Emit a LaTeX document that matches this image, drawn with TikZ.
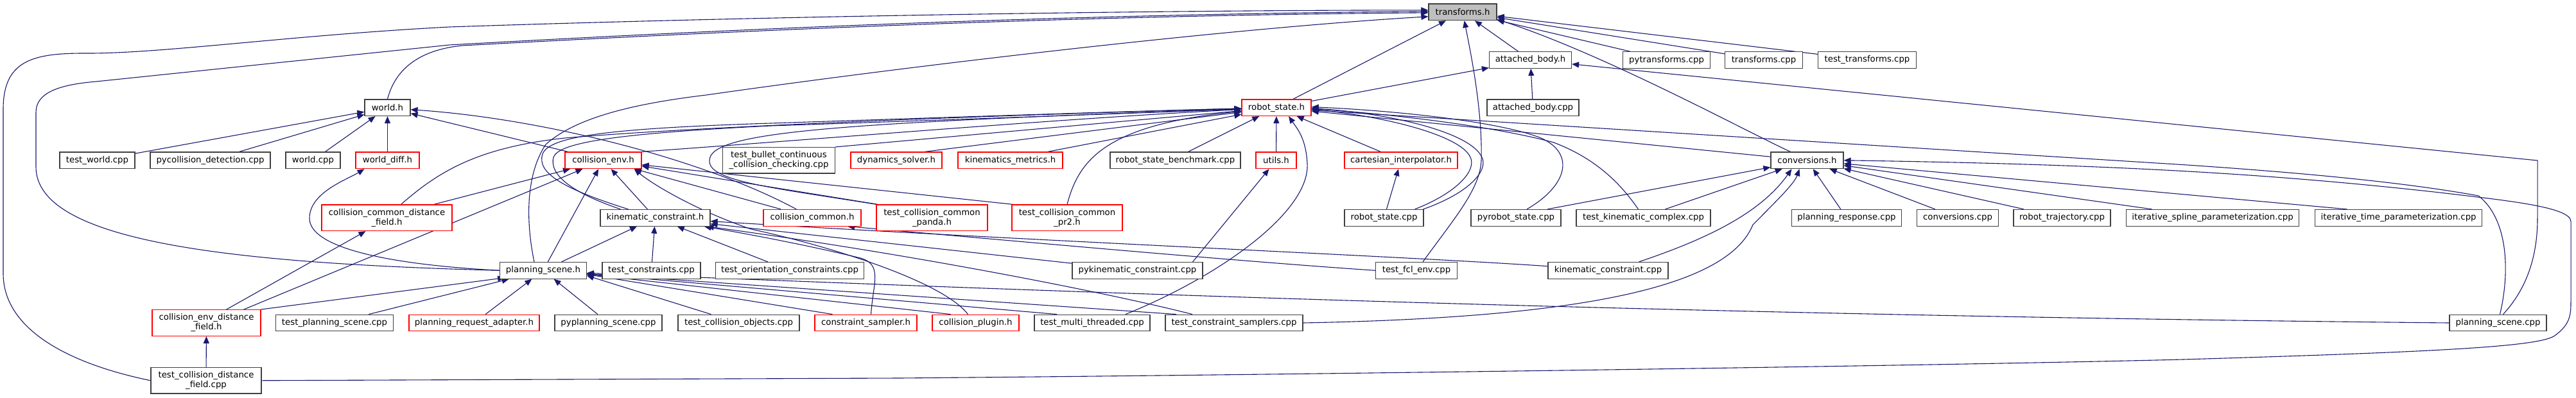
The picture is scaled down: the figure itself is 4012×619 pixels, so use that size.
\documentclass[tikz,border=0pt]{standalone}
\usepackage{fontspec}
\setmainfont{DejaVu Sans}
\usetikzlibrary{arrows.meta}
\definecolor{edgeblue}{RGB}{25,25,112}
\definecolor{boxgray}{RGB}{64,64,64}
\definecolor{rootfill}{RGB}{191,191,191}
\pgfdeclarelayer{background}
\pgfsetlayers{background,main}
\begin{document}
\begin{tikzpicture}[x=1pt,y=-1pt,
  box/.style={draw=boxgray, line width=1.2pt, fill=white, rectangle, inner sep=0pt,
    minimum height=25.6pt, align=center, font=\fontsize{13.3}{15}\selectfont},
  rbox/.style={box, draw=red},
  two/.style={minimum height=40.5pt},
  edge/.style={draw=edgeblue, line width=1.1pt, -{Triangle[length=11pt,width=9pt]}}]
\useasboundingbox (0,0) rectangle (4012,619);

% ---------- nodes ----------
\node[box, fill=rootfill, minimum width=106pt] (transforms) at (2278,18.8) {transforms.h};

\node[box, minimum width=128pt] (attached_body_h) at (2383.5,93.5) {attached\_body.h};
\node[box, minimum width=136pt] (pytransforms) at (2595.6,93.5) {pytransforms.cpp};
\node[box, minimum width=120.5pt] (transforms_cpp) at (2747,93.5) {transforms.cpp};
\node[box, minimum width=152.5pt] (test_transforms) at (2908,93.5) {test\_transforms.cpp};

\node[box, minimum width=71pt] (world_h) at (603.5,167.7) {world.h};
\node[rbox, minimum width=108pt] (robot_state_h) at (1988,167.7) {robot\_state.h};
\node[box, minimum width=143pt] (attached_body_cpp) at (2387.5,167.7) {attached\_body.cpp};

\node[box, minimum width=117pt] (test_world) at (151.5,249.8) {test\_world.cpp};
\node[box, minimum width=187pt] (pycollision) at (327.5,249.8) {pycollision\_detection.cpp};
\node[box, minimum width=85pt] (world_cpp) at (487.5,249.8) {world.cpp};
\node[rbox, minimum width=99pt] (world_diff) at (603.5,249.8) {world\_diff.h};
\node[rbox, minimum width=119pt] (collision_env_h) at (939.5,249.8) {collision\_env.h};
\node[box, two, minimum width=175pt] (test_bullet) at (1213,249.8) {test\_bullet\_continuous\\\_collision\_checking.cpp};
\node[rbox, minimum width=142pt] (dynamics_solver) at (1396,249.8) {dynamics\_solver.h};
\node[rbox, minimum width=163pt] (kinematics_metrics) at (1573.5,249.8) {kinematics\_metrics.h};
\node[box, minimum width=203pt] (robot_state_benchmark) at (1830.5,249.8) {robot\_state\_benchmark.cpp};
\node[rbox, minimum width=63pt] (utils) at (1987.5,249.8) {utils.h};
\node[rbox, minimum width=176pt] (cartesian_interpolator) at (2182,249.8) {cartesian\_interpolator.h};
\node[box, minimum width=113pt] (conversions_h) at (2814.5,249.8) {conversions.h};

\node[rbox, two, minimum width=203pt] (ccdf) at (602.5,339.3) {collision\_common\_distance\\\_field.h};
\node[box, minimum width=171pt] (kinematic_constraint_h) at (1020.5,339.3) {kinematic\_constraint.h};
\node[rbox, minimum width=152pt] (collision_common_h) at (1265,339.3) {collision\_common.h};
\node[rbox, two, minimum width=173pt] (panda) at (1451.5,339.3) {test\_collision\_common\\\_panda.h};
\node[rbox, two, minimum width=172pt] (pr2) at (1662,339.3) {test\_collision\_common\\\_pr2.h};
\node[box, minimum width=123pt] (robot_state_cpp) at (2155.5,339.3) {robot\_state.cpp};
\node[box, minimum width=140pt] (pyrobot_state) at (2361,339.3) {pyrobot\_state.cpp};
\node[box, minimum width=209pt] (test_kinematic_complex) at (2559.5,339.3) {test\_kinematic\_complex.cpp};
\node[box, minimum width=170.5pt] (planning_response) at (2876,339.3) {planning\_response.cpp};
\node[box, minimum width=126.5pt] (conversions_cpp) at (3049,339.3) {conversions.cpp};
\node[box, minimum width=151pt] (robot_trajectory) at (3211.5,339.3) {robot\_trajectory.cpp};
\node[box, minimum width=269.5pt] (iterative_spline) at (3446,339.3) {iterative\_spline\_parameterization.cpp};
\node[box, minimum width=260pt] (iterative_time) at (3735.6,339.3) {iterative\_time\_parameterization.cpp};

\node[box, minimum width=134.5pt] (planning_scene_h) at (846,421.3) {planning\_scene.h};
\node[box, minimum width=153pt] (test_constraints) at (1014.5,421.3) {test\_constraints.cpp};
\node[box, minimum width=230.6pt] (test_orientation) at (1230,421.3) {test\_orientation\_constraints.cpp};
\node[box, minimum width=203pt] (pykinematic) at (1771.5,421.3) {pykinematic\_constraint.cpp};
\node[box, minimum width=127pt] (test_fcl_env) at (2206,421.3) {test\_fcl\_env.cpp};
\node[box, minimum width=187pt] (kinematic_constraint_cpp) at (2504.5,421.3) {kinematic\_constraint.cpp};

\node[rbox, two, minimum width=169pt] (cedf) at (321.5,503) {collision\_env\_distance\\\_field.h};
\node[box, minimum width=183pt] (test_planning_scene) at (521,503) {test\_planning\_scene.cpp};
\node[rbox, minimum width=203pt] (planning_request_adapter) at (738.5,503) {planning\_request\_adapter.h};
\node[box, minimum width=167pt] (pyplanning_scene) at (947.5,503) {pyplanning\_scene.cpp};
\node[box, minimum width=189pt] (test_collision_objects) at (1150.5,503) {test\_collision\_objects.cpp};
\node[rbox, minimum width=159pt] (constraint_sampler) at (1348.5,503) {constraint\_sampler.h};
\node[rbox, minimum width=135pt] (collision_plugin) at (1519.5,503) {collision\_plugin.h};
\node[box, minimum width=180pt] (test_multi_threaded) at (1701,503) {test\_multi\_threaded.cpp};
\node[box, minimum width=214pt] (test_constraint_samplers) at (1922,503) {test\_constraint\_samplers.cpp};
\node[box, minimum width=151pt] (planning_scene_cpp) at (3890.5,503) {planning\_scene.cpp};

\node[box, two, minimum width=172pt] (tcdf) at (321,592.8) {test\_collision\_distance\\\_field.cpp};

% ---------- edges ----------
\begin{pgfonlayer}{background}
\fill[white] (0,0) rectangle (4012,619);

% into world.h
\draw[edge] (test_world) -- (world_h);
\draw[edge] (pycollision) -- (world_h);
\draw[edge] (world_cpp) -- (world_h);
\draw[edge] (world_diff) -- (world_h);
\draw[edge] (collision_env_h) -- ([yshift=-9pt]world_h.east);
\draw[edge] (collision_common_h) .. controls (1100,250) and (850,185) .. ([yshift=-3pt]world_h.east);

% into transforms.h
\draw[edge] (world_h.north) .. controls (615,110) and (650,78) .. (720,71) .. controls (1200,45) and (1700,24) .. ([yshift=-1pt]transforms.west);
\draw[edge] (tcdf.west) .. controls (100,565) and (5,510) .. (5,426) -- (5,170) .. controls (5,95) and (50,83) .. (130,83) .. controls (250,84) and (450,55) .. (700,42) .. controls (1200,25) and (1800,16) .. ([yshift=3pt]transforms.west);
\draw[edge] (planning_scene_h.west) .. controls (350,410) and (56,375) .. (56,260) -- (56,175) .. controls (56,145) and (90,132) .. (150,127) -- (700,70) .. controls (1200,42) and (1700,22) .. ([yshift=1pt]transforms.west);
\draw[edge] ([xshift=-14pt]planning_scene_h.north) .. controls (818,340) and (820,270) .. (850,225) .. controls (900,180) and (1000,160) .. (1100,148) .. controls (1400,105) and (1900,45) .. ([yshift=-7pt]transforms.west);
\draw[edge] (robot_state_h) -- (transforms);
\draw[edge] (attached_body_h) -- (transforms);
\draw[edge] (pytransforms) -- (transforms);
\draw[edge] (transforms_cpp) -- (transforms);
\draw[edge] (test_transforms) -- (transforms);
\draw[edge] ([xshift=-26pt]conversions_h.north) .. controls (2720,205) and (2500,85) .. ([yshift=2pt]transforms.south east);
\draw[edge] ([xshift=10pt]test_fcl_env.north) .. controls (2265,340) and (2305,295) .. (2307,250) .. controls (2309,170) and (2290,80) .. (transforms);

% into attached_body.h
\draw[edge] (robot_state_h) -- (attached_body_h);
\draw[edge] (attached_body_cpp) -- (attached_body_h);
\draw[edge] ([xshift=8pt]planning_scene_cpp.north) .. controls (3935,450) and (3952,400) .. (3952,340) -- (3952,250) -- (attached_body_h);

% into world_diff.h
\draw[edge] (planning_scene_h.west) .. controls (600,412) and (482,385) .. (482,340) .. controls (482,300) and (540,280) .. ([xshift=-36pt]world_diff.south);

% into collision_common_distance_field.h
\draw[edge] ([xshift=31pt]cedf.north) -- ([xshift=-33pt]ccdf.south);

% into collision_env_distance_field.h
\draw[edge] (tcdf) -- (cedf);

% into collision_env.h
\draw[edge] ([xshift=73pt]ccdf.north) -- (collision_env_h);
\draw[edge] ([xshift=58pt]cedf.north) -- ([xshift=-32pt]collision_env_h.south);
\draw[edge] (planning_scene_h) -- (collision_env_h);
\draw[edge] (kinematic_constraint_h) -- (collision_env_h);
\draw[edge] (collision_common_h) -- (collision_env_h);
\draw[edge] ([xshift=-84pt]panda.north) -- ([yshift=-9pt]collision_env_h.east);
\draw[edge] ([xshift=-84pt]pr2.north) -- ([yshift=-7pt]collision_env_h.east);
\draw[edge] ([xshift=-12pt]collision_plugin.north) .. controls (1470,440) and (1300,385) .. (1170,357) .. controls (1090,330) and (1020,290) .. ([xshift=-12pt]collision_env_h.south east);

% into robot_state.h
\draw[edge] ([xshift=22pt]ccdf.north) .. controls (680,270) and (740,230) .. (880,215) .. controls (1100,196) and (1600,178) .. (robot_state_h);
\draw[edge] (collision_env_h.north east) .. controls (1300,215) and (1650,185) .. (robot_state_h);
\draw[edge] ([xshift=-42pt]kinematic_constraint_h.north) .. controls (880,295) and (835,270) .. (845,240) .. controls (855,212) and (950,200) .. (1200,192) .. controls (1500,182) and (1800,172) .. (robot_state_h);
\draw[edge] ([xshift=-54pt]kinematic_constraint_h.north) .. controls (890,300) and (855,272) .. (862,245) .. controls (870,222) and (960,208) .. (1200,196) .. controls (1500,186) and (1800,175) .. (robot_state_h);
\draw[edge] (test_bullet.north east) -- (robot_state_h);
\draw[edge] ([xshift=-86pt]panda.north) .. controls (1200,292) and (1103,282) .. (1105,250) .. controls (1105,205) and (1300,192) .. (robot_state_h);
\draw[edge] ([xshift=44pt]dynamics_solver.north) -- (robot_state_h);
\draw[edge] ([xshift=58pt]kinematics_metrics.north) -- (robot_state_h);
\draw[edge] ([xshift=20pt]robot_state_benchmark.north) -- (robot_state_h);
\draw[edge] (utils) -- (robot_state_h);
\draw[edge] (pr2.north) .. controls (1680,250) and (1720,195) .. (robot_state_h);
\draw[edge] ([xshift=52pt]test_multi_threaded.north) .. controls (1900,430) and (2040,330) .. (2036,255) .. controls (2034,215) and (2020,200) .. ([xshift=19pt]robot_state_h.south);
\draw[edge] (cartesian_interpolator) -- (robot_state_h);
\draw[edge] ([xshift=48pt]robot_state_cpp.north) .. controls (2270,300) and (2300,265) .. (2290,245) .. controls (2275,210) and (2150,180) .. ([yshift=-3pt]robot_state_h.east);
\draw[edge] ([xshift=61pt]robot_state_cpp.north) .. controls (2290,300) and (2318,265) .. (2308,245) .. controls (2290,205) and (2160,176) .. ([yshift=-1pt]robot_state_h.east);
\draw[edge] ([xshift=17pt]pyrobot_state.north) .. controls (2440,290) and (2455,240) .. (2400,215) .. controls (2330,187) and (2150,171) .. ([yshift=1pt]robot_state_h.east);
\draw[edge] ([xshift=-8pt]test_kinematic_complex.north) .. controls (2520,280) and (2480,245) .. (2420,222) .. controls (2320,195) and (2150,176) .. ([yshift=-2pt]robot_state_h.east);
\draw[edge] ([xshift=3pt]planning_scene_cpp.north) .. controls (3910,420) and (3905,340) .. (3860,305) .. controls (3750,285) and (3600,270) .. (3400,256.6) -- ([yshift=-4pt]robot_state_h.east);
\draw[edge] (conversions_h) -- (robot_state_h);

% into cartesian_interpolator.h
\draw[edge] (robot_state_cpp) -- (cartesian_interpolator);

% into utils.h
\draw[edge] ([xshift=-16pt]pykinematic.north east) -- (utils);

% into collision_common.h
\draw[edge] (test_fcl_env.west) .. controls (1900,405) and (1500,368) .. ([xshift=55pt]collision_common_h.south);

% into kinematic_constraint.h
\draw[edge] (planning_scene_h) -- (kinematic_constraint_h);
\draw[edge] (test_constraints) -- (kinematic_constraint_h);
\draw[edge] (test_orientation) -- (kinematic_constraint_h);
\draw[edge] (pykinematic) -- (kinematic_constraint_h);
\draw[edge] (kinematic_constraint_cpp) .. controls (2200,400) and (1600,375) .. (kinematic_constraint_h);
\draw[edge] ([xshift=8pt]constraint_sampler.north) .. controls (1360,440) and (1375,412) .. (1340,402) .. controls (1250,380) and (1150,362) .. ([xshift=-10pt]kinematic_constraint_h.south east);
\draw[edge] ([xshift=-65pt]test_constraint_samplers.north) .. controls (1750,462) and (1450,400) .. ([xshift=-6pt]kinematic_constraint_h.south east);

% into planning_scene.h
\draw[edge] ([xshift=84pt]cedf.north) -- ([xshift=8pt,yshift=2pt]planning_scene_h.south west);
\draw[edge] (test_planning_scene) -- (planning_scene_h);
\draw[edge] (planning_request_adapter) -- (planning_scene_h);
\draw[edge] (pyplanning_scene) -- (planning_scene_h);
\draw[edge] (test_collision_objects) -- ([yshift=-8pt]planning_scene_h.east);
\draw[edge] ([xshift=-52pt]constraint_sampler.north) -- ([yshift=-6pt]planning_scene_h.east);
\draw[edge] ([xshift=-39pt]collision_plugin.north) -- ([yshift=-6pt]planning_scene_h.east);
\draw[edge] ([xshift=-55pt]test_multi_threaded.north) -- ([yshift=-5pt]planning_scene_h.east);
\draw[edge] ([xshift=-90pt]test_constraint_samplers.north) -- ([yshift=-5pt]planning_scene_h.east);
\draw[edge] (planning_scene_cpp.west) .. controls (2500,490) and (1500,448) .. ([yshift=-4pt]planning_scene_h.east);

% into conversions.h
\draw[edge] ([xshift=49pt]pyrobot_state.north) -- (conversions_h);
\draw[edge] ([xshift=34pt]test_kinematic_complex.north) -- (conversions_h);
\draw[edge] ([xshift=48pt]kinematic_constraint_cpp.north) .. controls (2650,375) and (2740,335) .. ([xshift=-24pt]conversions_h.south);
\draw[edge] (test_constraint_samplers.east) .. controls (2450,495) and (2690,450) .. (2730,350) .. controls (2770,310) and (2795,285) .. ([xshift=-12pt]conversions_h.south);
\draw[edge] (planning_response) -- (conversions_h);
\draw[edge] (conversions_cpp) -- (conversions_h);
\draw[edge] (robot_trajectory) -- (conversions_h);
\draw[edge] (iterative_spline) -- (conversions_h);
\draw[edge] ([xshift=-80pt]iterative_time.north) -- (conversions_h);
\draw[edge] (tcdf.east) -- (1400,589) .. controls (2000,584) and (3000,570) .. (3400,560) .. controls (3800,548) and (3960,540) .. (3980,522) .. controls (4003,505) and (4004,490) .. (4004,470) -- (4004,345) .. controls (4004,322) and (3900,312) .. (3800,300) .. controls (3550,272) and (3300,256) .. (conversions_h.east);
\end{pgfonlayer}
\end{tikzpicture}
\end{document}
